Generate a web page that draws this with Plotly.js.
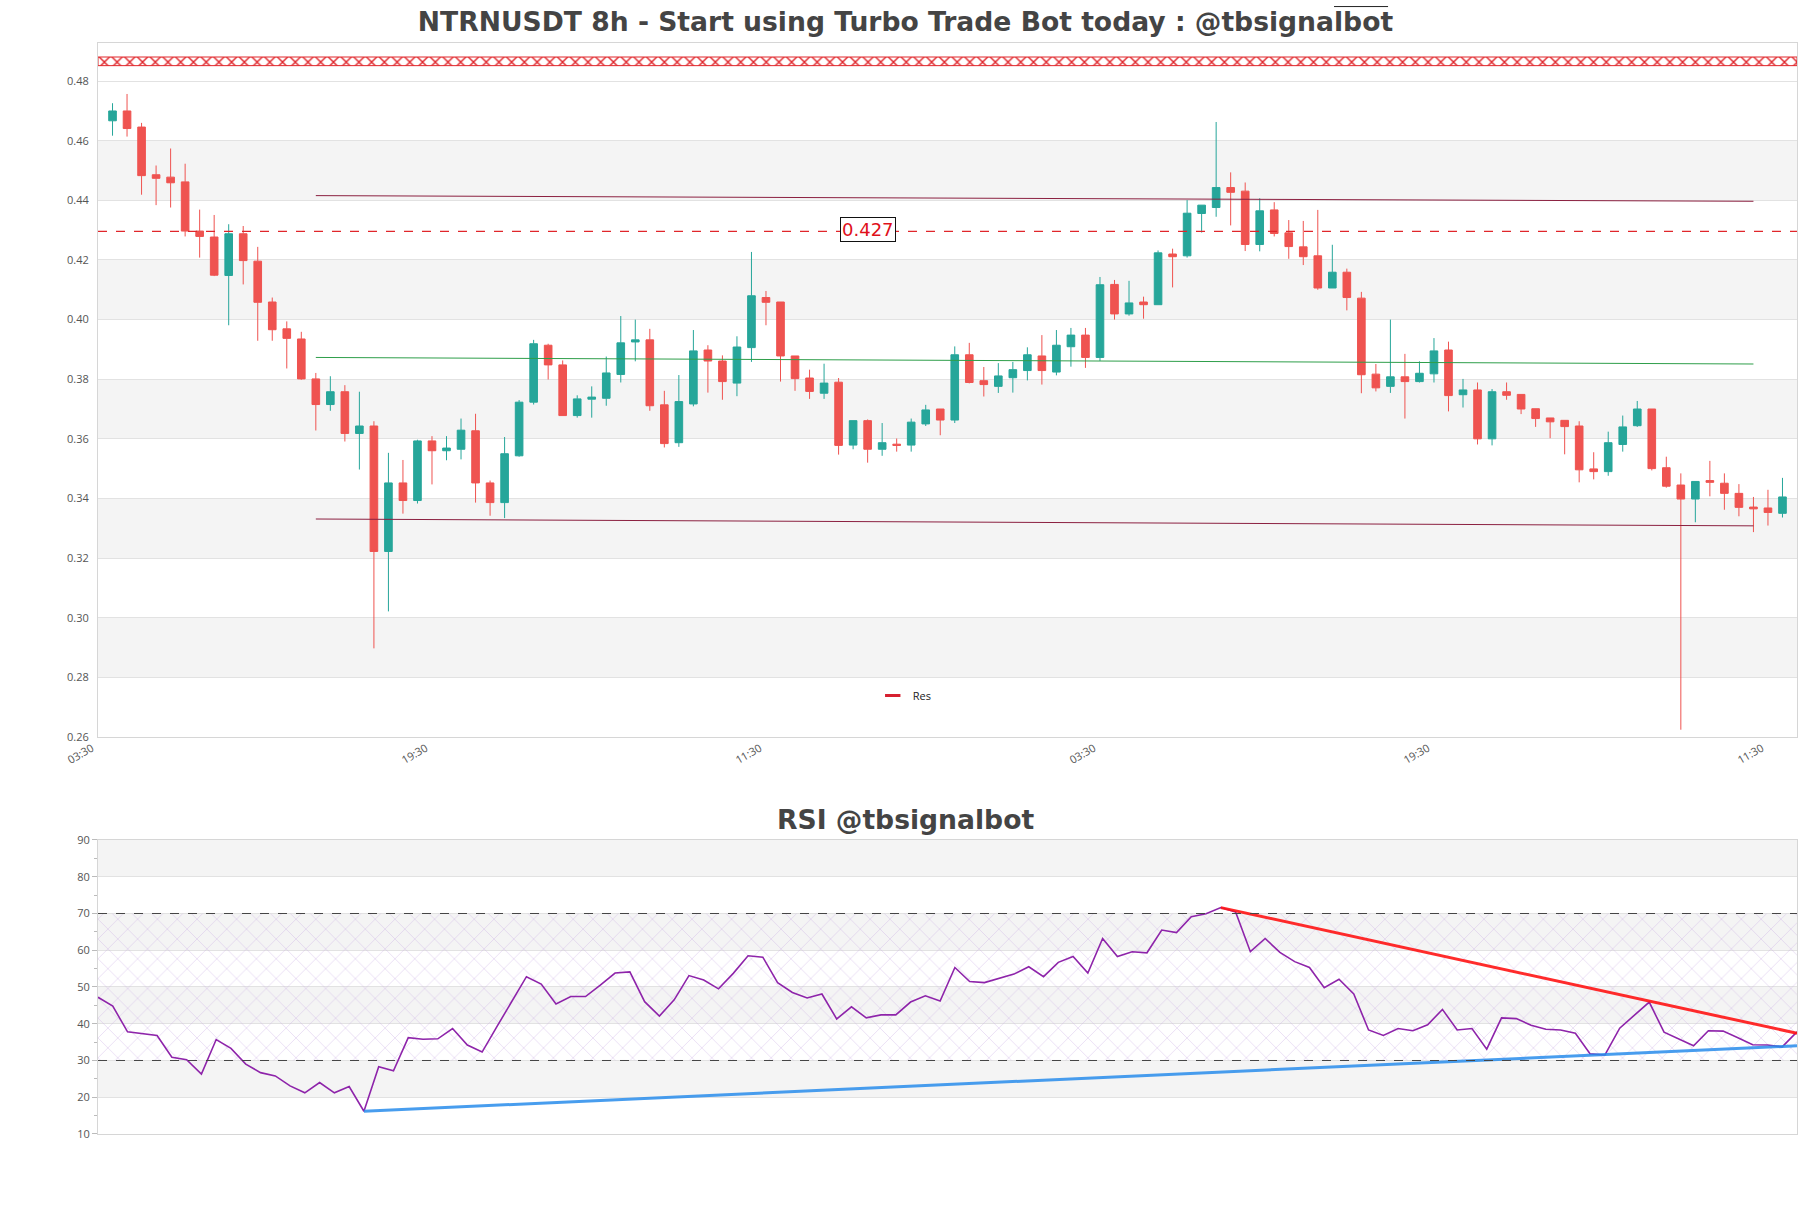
<!DOCTYPE html>
<html>
<head>
<meta charset="utf-8">
<script src="https://cdn.plot.ly/plotly-3.0.1.min.js"></script>
<style>
  html, body { margin: 0; padding: 0; background: #fff; }
  #chart { width: 1811px; height: 1208px; }
</style>
</head>
<body>
<div id="chart"></div>
<script>
// candles (8h)
const opens = [
  0.4667, 0.4700, 0.4646, 0.4486, 0.4478, 0.4462, 0.4297, 0.4277, 0.4148, 0.4288,
  0.4196, 0.4059, 0.3969, 0.3935, 0.3801, 0.3715, 0.3758, 0.3618, 0.3643, 0.3222,
  0.3452, 0.3393, 0.3593, 0.3560, 0.3565, 0.3627, 0.3452, 0.3386, 0.3543, 0.3723,
  0.3914, 0.3848, 0.3678, 0.3733, 0.3736, 0.3816, 0.3925, 0.3932, 0.3714, 0.3587,
  0.3717, 0.3898, 0.3861, 0.3787, 0.3906, 0.4074, 0.4059, 0.3878, 0.3804, 0.3753,
  0.3790, 0.3579, 0.3661, 0.3565, 0.3582, 0.3579, 0.3650, 0.3700, 0.3663, 0.3882,
  0.3795, 0.3776, 0.3805, 0.3829, 0.3878, 0.3824, 0.3909, 0.3948, 0.3873, 0.4118,
  0.4019, 0.4059, 0.4050, 0.4220, 0.4214, 0.4356, 0.4376, 0.4443, 0.4431, 0.4252,
  0.4368, 0.4291, 0.4244, 0.4214, 0.4106, 0.4159, 0.4072, 0.3817, 0.3776, 0.3808,
  0.3792, 0.3818, 0.3898, 0.3748, 0.3764, 0.3600, 0.3758, 0.3749, 0.3701, 0.3670,
  0.3662, 0.3643, 0.3499, 0.3490, 0.3581, 0.3644, 0.3700, 0.3503, 0.3445, 0.3398,
  0.3460, 0.3451, 0.3417, 0.3371, 0.3368, 0.3350
];
const highs = [
  0.4726, 0.4757, 0.4660, 0.4517, 0.4574, 0.4523, 0.4369, 0.4351, 0.4320, 0.4314,
  0.4244, 0.4074, 0.3994, 0.3959, 0.3821, 0.3810, 0.3780, 0.3758, 0.3659, 0.3553,
  0.3529, 0.3597, 0.3609, 0.3609, 0.3668, 0.3684, 0.3460, 0.3606, 0.3730, 0.3932,
  0.3919, 0.3863, 0.3746, 0.3776, 0.3876, 0.4012, 0.4000, 0.3969, 0.3761, 0.3814,
  0.3965, 0.3914, 0.3880, 0.3944, 0.4227, 0.4096, 0.4059, 0.3878, 0.3832, 0.3852,
  0.3804, 0.3661, 0.3665, 0.3653, 0.3601, 0.3668, 0.3714, 0.3700, 0.3910, 0.3922,
  0.3841, 0.3854, 0.3858, 0.3907, 0.3948, 0.3965, 0.3972, 0.3972, 0.4143, 0.4133,
  0.4130, 0.4077, 0.4232, 0.4238, 0.4401, 0.4384, 0.4663, 0.4494, 0.4460, 0.4407,
  0.4394, 0.4334, 0.4331, 0.4368, 0.4251, 0.4171, 0.4093, 0.3851, 0.4000, 0.3885,
  0.3860, 0.3938, 0.3926, 0.3801, 0.3789, 0.3767, 0.3789, 0.3749, 0.3701, 0.3670,
  0.3662, 0.3659, 0.3555, 0.3624, 0.3678, 0.3727, 0.3700, 0.3540, 0.3484, 0.3457,
  0.3526, 0.3484, 0.3448, 0.3405, 0.3429, 0.3469
];
const lows = [
  0.4617, 0.4614, 0.4419, 0.4384, 0.4376, 0.4279, 0.4208, 0.4146, 0.3981, 0.4118,
  0.3929, 0.3929, 0.3836, 0.3798, 0.3628, 0.3694, 0.3591, 0.3497, 0.2897, 0.3021,
  0.3349, 0.3383, 0.3447, 0.3528, 0.3531, 0.3386, 0.3342, 0.3334, 0.3540, 0.3715,
  0.3799, 0.3678, 0.3671, 0.3671, 0.3711, 0.3789, 0.3860, 0.3694, 0.3571, 0.3573,
  0.3709, 0.3755, 0.3731, 0.3743, 0.3858, 0.3981, 0.3792, 0.3761, 0.3734, 0.3734,
  0.3547, 0.3565, 0.3520, 0.3543, 0.3557, 0.3557, 0.3643, 0.3612, 0.3653, 0.3786,
  0.3742, 0.3754, 0.3755, 0.3796, 0.3782, 0.3813, 0.3842, 0.3838, 0.3861, 0.4000,
  0.4013, 0.4003, 0.4050, 0.4108, 0.4208, 0.4292, 0.4345, 0.4316, 0.4230, 0.4229,
  0.4279, 0.4204, 0.4183, 0.4100, 0.4106, 0.4031, 0.3753, 0.3759, 0.3754, 0.3668,
  0.3789, 0.3789, 0.3692, 0.3705, 0.3581, 0.3578, 0.3731, 0.3683, 0.3640, 0.3602,
  0.3548, 0.3454, 0.3464, 0.3476, 0.3557, 0.3640, 0.3494, 0.3436, 0.2624, 0.3320,
  0.3407, 0.3362, 0.3340, 0.3287, 0.3309, 0.3336
];
const closes = [
  0.4700, 0.4641, 0.4483, 0.4474, 0.4459, 0.4297, 0.4279, 0.4149, 0.4288, 0.4198,
  0.4058, 0.3966, 0.3937, 0.3801, 0.3715, 0.3758, 0.3618, 0.3643, 0.3222, 0.3452,
  0.3393, 0.3593, 0.3560, 0.3569, 0.3629, 0.3452, 0.3386, 0.3550, 0.3723, 0.3919,
  0.3848, 0.3678, 0.3734, 0.3740, 0.3821, 0.3922, 0.3932, 0.3711, 0.3584, 0.3725,
  0.3895, 0.3861, 0.3792, 0.3908, 0.4080, 0.4058, 0.3878, 0.3802, 0.3759, 0.3787,
  0.3578, 0.3661, 0.3565, 0.3587, 0.3578, 0.3656, 0.3697, 0.3663, 0.3882, 0.3789,
  0.3782, 0.3811, 0.3832, 0.3882, 0.3829, 0.3914, 0.3948, 0.3873, 0.4117, 0.4019,
  0.4056, 0.4050, 0.4224, 0.4211, 0.4357, 0.4384, 0.4443, 0.4427, 0.4252, 0.4365,
  0.4289, 0.4245, 0.4211, 0.4106, 0.4159, 0.4074, 0.3815, 0.3771, 0.3808, 0.3792,
  0.3820, 0.3895, 0.3745, 0.3764, 0.3600, 0.3758, 0.3746, 0.3700, 0.3668, 0.3657,
  0.3641, 0.3496, 0.3490, 0.3587, 0.3640, 0.3700, 0.3500, 0.3441, 0.3398, 0.3457,
  0.3454, 0.3417, 0.3370, 0.3365, 0.3353, 0.3405
];

// RSI, one value per candle
const rsi = [
  47.2, 44.8, 37.8, 37.3, 36.8, 30.9, 30.2, 26.3, 35.7, 33.3,
  29.0, 26.7, 25.8, 23.1, 21.2, 24.0, 21.2, 22.9, 16.2, 28.3,
  27.2, 36.2, 35.8, 35.9, 38.7, 34.2, 32.3, 39.2, 45.9, 52.8,
  50.8, 45.4, 47.4, 47.4, 50.5, 53.8, 54.1, 46.0, 42.1, 46.5,
  53.1, 51.9, 49.5, 53.7, 58.5, 58.1, 51.2, 48.5, 47.0, 48.1,
  41.3, 44.6, 41.6, 42.4, 42.4, 45.9, 47.6, 46.2, 55.3, 51.5,
  51.2, 52.4, 53.5, 55.5, 52.8, 56.7, 58.3, 53.8, 63.2, 58.3,
  59.6, 59.3, 65.5, 64.8, 69.1, 69.9, 71.6, 70.4, 59.6, 63.2,
  59.4, 56.9, 55.3, 49.8, 52.1, 48.1, 38.3, 36.8, 38.7, 38.1,
  39.7, 43.9, 38.3, 38.7, 33.1, 41.6, 41.4, 39.6, 38.5, 38.3,
  37.4, 31.8, 31.5, 38.8, 42.4, 45.9, 37.7, 35.9, 34.0, 38.1,
  38.0, 36.2, 34.3, 34.2, 33.7, 37.8
];

// x ticks (candle index -> label)
const xTickVals = [-1, 22, 45, 68, 91, 114];
const xTickText = ["03:30", "19:30", "11:30", "03:30", "19:30", "11:30"];

// price channel lines (start / end candle)
const trendX = [14, 113];
const upperTrend = [0.4416, 0.4397];
const midTrend = [0.3873, 0.3851];
const lowerTrend = [0.3331, 0.3308];

// resistance level and its label
const resLevel = 0.4296;
const resLabel = "0.427";
const resLabelX = 52;
const topBand = [0.4852, 0.4881];

// RSI trendlines
const rsiDownX = [76, 115];
const rsiDownY = [71.6, 37.4];
const rsiUpX = [18, 115];
const rsiUpY = [16.2, 34.0];
const rsiBands = [30, 70];

const idx = opens.map((_, i) => i);
const rsiIdx = rsi.map((_, i) => i);
const xRange = [-1, 116];

const GREEN = "#26a69a";
const RED = "#ef5350";
const STRIPE = "#f4f4f4";
const GRID = "#e2e2e2";
const BORDER = "#d6d6d6";

const traces = [
  {
    type: "scatter", mode: "lines",
    x: [xRange[0], xRange[1], xRange[1], xRange[0], xRange[0]],
    y: [topBand[0], topBand[0], topBand[1], topBand[1], topBand[0]],
    fill: "toself",
    fillpattern: { shape: "x", fgcolor: "#e0262b", bgcolor: "#ffffff", size: 9, solidity: 0.3 },
    line: { color: "#e0262b", width: 1 },
    showlegend: false, hoverinfo: "skip", xaxis: "x", yaxis: "y"
  },
  {
    type: "candlestick",
    x: idx, open: opens, high: highs, low: lows, close: closes,
    increasing: { line: { color: GREEN, width: 1 }, fillcolor: GREEN },
    decreasing: { line: { color: RED, width: 1 }, fillcolor: RED },
    whiskerwidth: 0,
    showlegend: false, hoverinfo: "skip", xaxis: "x", yaxis: "y"
  },
  {
    type: "scatter", mode: "lines", x: trendX, y: upperTrend,
    line: { color: "#8b2040", width: 1 }, showlegend: false, hoverinfo: "skip"
  },
  {
    type: "scatter", mode: "lines", x: trendX, y: midTrend,
    line: { color: "#2e9e4a", width: 1 }, showlegend: false, hoverinfo: "skip"
  },
  {
    type: "scatter", mode: "lines", x: trendX, y: lowerTrend,
    line: { color: "#8b2040", width: 1 }, showlegend: false, hoverinfo: "skip"
  },
  {
    // legend entry for the resistance level (sits under its label box)
    type: "scatter", mode: "markers", name: "Res",
    x: [resLabelX], y: [resLevel],
    marker: { symbol: "line-ew", size: 11, color: "#d62030", line: { color: "#d62030", width: 3 } },
    hoverinfo: "skip"
  },
  // RSI panel
  {
    type: "scatter", mode: "lines",
    x: [0, rsi.length - 1, rsi.length - 1, 0, 0],
    y: [rsiBands[0], rsiBands[0], rsiBands[1], rsiBands[1], rsiBands[0]],
    fill: "toself",
    fillpattern: { shape: "x", fgcolor: "rgba(200,165,225,0.7)", size: 14, solidity: 0.07 },
    line: { width: 0 },
    showlegend: false, hoverinfo: "skip", xaxis: "x2", yaxis: "y2"
  },
  {
    type: "scatter", mode: "lines", x: rsiIdx, y: rsi,
    line: { color: "#8e24aa", width: 1.6 },
    showlegend: false, hoverinfo: "skip", xaxis: "x2", yaxis: "y2"
  },
  {
    type: "scatter", mode: "lines", x: rsiDownX, y: rsiDownY,
    line: { color: "rgba(255,20,20,0.9)", width: 3 },
    showlegend: false, hoverinfo: "skip", xaxis: "x2", yaxis: "y2"
  },
  {
    type: "scatter", mode: "lines", x: rsiUpX, y: rsiUpY,
    line: { color: "rgba(40,140,235,0.85)", width: 3 },
    showlegend: false, hoverinfo: "skip", xaxis: "x2", yaxis: "y2"
  }
];

const shapes = [];
for (let k = 0; k < 5; k++) {
  const y0 = 0.28 + 0.04 * k;
  shapes.push({ type: "rect", xref: "paper", yref: "y", x0: 0, x1: 1, y0: y0, y1: y0 + 0.02,
    fillcolor: STRIPE, line: { width: 0 }, layer: "below" });
}
for (let k = 0; k < 4; k++) {
  const y0 = 20 + 20 * k;
  shapes.push({ type: "rect", xref: "paper", yref: "y2", x0: 0, x1: 1, y0: y0, y1: y0 + 10,
    fillcolor: STRIPE, line: { width: 0 }, layer: "below" });
}
shapes.push({ type: "line", xref: "paper", yref: "y", x0: 0, x1: 1, y0: resLevel, y1: resLevel,
  line: { color: "#e0262b", width: 1.2, dash: "dash" } });
rsiBands.forEach(v => shapes.push({ type: "line", xref: "paper", yref: "y2", x0: 0, x1: 1, y0: v, y1: v,
  line: { color: "#444", width: 1, dash: "dash" } }));
// small stroke above the title
shapes.push({ type: "line", xref: "paper", yref: "paper", x0: 0.7275, x1: 0.7593, y0: 1.0334, y1: 1.0334,
  line: { color: "#222", width: 1 } });

const titleFont = { family: "DejaVu Sans", size: 26.6, color: "#444" };
const tickFont = { family: "Open Sans", size: 11, color: "#555" };

const layout = {
  width: 1811, height: 1208,
  margin: { l: 98, r: 14, t: 43, b: 74, autoexpand: false },
  paper_bgcolor: "#fff", plot_bgcolor: "#fff",
  title: { text: "<b>NTRNUSDT 8h - Start using Turbo Trade Bot today : @tbsignalbot</b>",
    x: 0.5, xref: "container", y: 1 - 22 / 1208, yref: "container", yanchor: "middle", font: titleFont },
  boxgap: 0.25,
  showlegend: true,
  legend: { x: 0.456, y: 0.402, xanchor: "left", yanchor: "middle", bgcolor: "rgba(0,0,0,0)",
    font: { family: "Open Sans", size: 11, color: "#222" } },
  xaxis: {
    domain: [0, 1], anchor: "y", range: xRange,
    tickmode: "array", tickvals: xTickVals, ticktext: xTickText, tickangle: -30,
    ticklabelshift: -6,
    tickfont: tickFont, showgrid: false, zeroline: false,
    showline: true, mirror: true, linecolor: BORDER, linewidth: 1,
    rangeslider: { visible: false }
  },
  yaxis: {
    domain: [0.364, 1], anchor: "x", range: [0.26, 0.4928],
    dtick: 0.02, tick0: 0.26, tickformat: ".2f", tickfont: tickFont,
    gridcolor: GRID, zeroline: false, ticklabelstandoff: 6,
    showline: true, mirror: true, linecolor: BORDER, linewidth: 1
  },
  xaxis2: {
    domain: [0, 1], anchor: "y2", range: [0, rsi.length - 1],
    showticklabels: false, showgrid: false, zeroline: false,
    showline: true, mirror: true, linecolor: BORDER, linewidth: 1
  },
  yaxis2: {
    domain: [0, 0.2695], anchor: "x2", range: [10, 90],
    dtick: 10, tick0: 10, tickfont: tickFont,
    ticks: "outside", ticklen: 5, tickcolor: "#bbb",
    minor: { dtick: 5, ticks: "outside", ticklen: 3, tickcolor: "#bbb", showgrid: false },
    gridcolor: GRID, zeroline: false,
    showline: true, mirror: true, linecolor: BORDER, linewidth: 1
  },
  shapes: shapes,
  annotations: [
    {
      xref: "x", yref: "y", x: resLabelX, y: resLevel, yshift: 2,
      text: resLabel, showarrow: false,
      font: { family: "DejaVu Sans", size: 18, color: "#e0101a" },
      bgcolor: "#fff", bordercolor: "#111", borderwidth: 1, borderpad: 1
    },
    {
      xref: "paper", yref: "paper", x: (905.5 - 98) / 1699, y: (1134 - 819) / 1091,
      xanchor: "center", yanchor: "middle", showarrow: false,
      text: "<b>RSI @tbsignalbot</b>", font: titleFont
    }
  ]
};

Plotly.newPlot("chart", traces, layout, { staticPlot: true, displayModeBar: false });
</script>
</body>
</html>
